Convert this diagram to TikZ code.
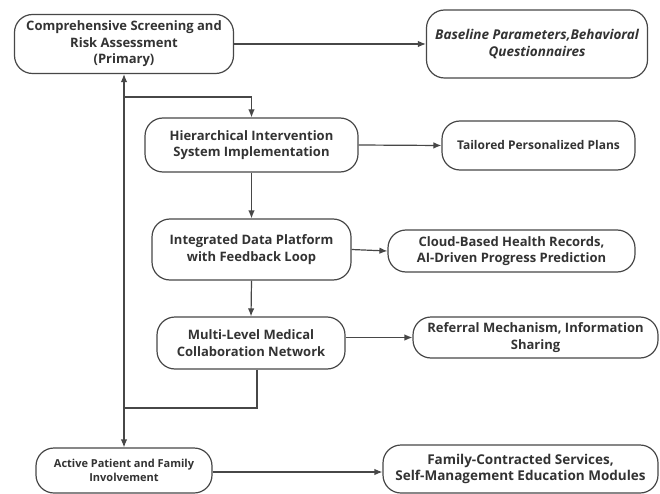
\documentclass[tikz,border=0pt]{standalone}
\usepackage{fontspec}
\setmainfont{Open Sans}
\usetikzlibrary{arrows.meta}
\definecolor{ln}{HTML}{474747}
\definecolor{tx}{HTML}{333333}
\tikzset{
  box/.style={draw=ln, line width=1.2pt, rounded corners=18pt, align=center,
    text=tx, inner sep=0pt, font=\bfseries\fontsize{13}{16.5}\selectfont},
  conn/.style={draw=ln, line width=1.2pt},
  arr/.style={conn, -{Latex[length=8pt,width=6.5pt]}}
}
\begin{document}
\begin{tikzpicture}[x=1pt,y=-1pt]
\useasboundingbox (0,0) rectangle (660,494);
\fill[white] (0,0) rectangle (660,494);
\node[box, minimum width=219pt, minimum height=59pt] (A) at (124,44) {Comprehensive Screening and\\Risk Assessment\\(Primary)};
\node[box, minimum width=221pt, minimum height=68pt, font=\bfseries\itshape\fontsize{13.5}{17}\selectfont] (B) at (537,44) {Baseline Parameters,Behavioral\\Questionnaires};
\node[box, minimum width=213pt, minimum height=54pt] (H) at (251.5,145) {Hierarchical Intervention\\System Implementation};
\node[box, minimum width=193pt, minimum height=49pt, font=\bfseries\fontsize{12}{15}\selectfont] (T) at (538.5,145.5) {Tailored Personalized Plans};
\node[box, minimum width=199pt, minimum height=61pt] (I) at (251.5,249.5) {Integrated Data Platform\\with Feedback Loop};
\node[box, minimum width=247pt, minimum height=42pt] (C) at (511.5,251) {Cloud-Based Health Records,\\AI-Driven Progress Prediction};
\node[box, minimum width=188pt, minimum height=52pt] (M) at (251,343) {Multi-Level Medical\\Collaboration Network};
\node[box, minimum width=245pt, minimum height=41pt] (R) at (535.5,337.5) {Referral Mechanism, Information\\Sharing};
\node[box, minimum width=176pt, minimum height=45pt, font=\bfseries\fontsize{11}{14}\selectfont] (P) at (124,470.5) {Active Patient and Family\\Involvement};
\node[box, minimum width=275pt, minimum height=48pt, font=\bfseries\fontsize{13.5}{16}\selectfont] (F) at (520.5,469) {Family-Contracted Services,\\Self-Management Education Modules};
\coordinate (j1) at (124,97);
\coordinate (j2) at (124,408);
\draw[arr] (A.east) -- (B.west);
\draw[arr] (H.east) -- (T.west);
\draw[arr] (I.east) -- (C.west);
\draw[arr] (R.west -| M.east) -- (R.west);
\draw[arr] (P.east |- 0,472) -- (F.west |- 0,472);
\draw[arr] (H.south) -- (I.north);
\draw[arr] (I.south) -- (M.north);
\draw[conn] ([xshift=6pt]M.south) |- (j2);
\draw[arr] (j2) -- (A.south);
\draw[arr] (j2) -- (P.north);
\draw[arr] (j1) -| (H.north);
\end{tikzpicture}
\end{document}
